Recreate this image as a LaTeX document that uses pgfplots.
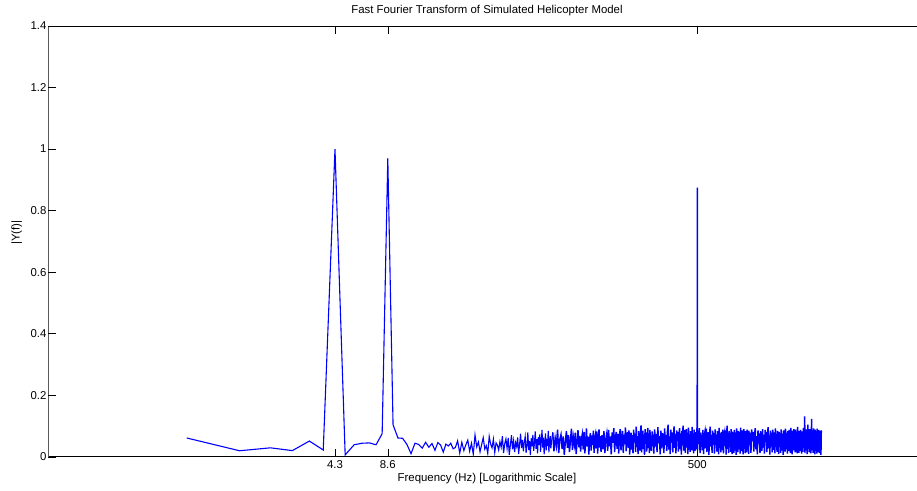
\documentclass[border=0pt]{standalone}
\usepackage{fontspec}
\setmainfont{Liberation Sans}
\usepackage{pgfplots}
\pgfplotsset{compat=1.18}
\definecolor{mblue}{RGB}{0,0,255}
\begin{document}
\begin{tikzpicture}
\fill[white] (-60pt,-45pt) rectangle (940pt,470pt);
\begin{axis}[
  at={(0,0)}, anchor=south west,
  width=877.5pt, height=431pt, scale only axis,
  xmode=log, xmin=0.16279, xmax=16279,
  ymin=0, ymax=1.4,
  axis line style={draw=none},
  xtick={7,14,814}, xticklabels={4.3,8.6,500},
  ytick={0,0.2,0.4,0.6,0.8,1,1.2,1.4},
  yticklabels={0,0.2,0.4,0.6,0.8,1,1.2,1.4},
  xtick pos=both, ytick pos=left,
  xminorticks=false, yminorticks=false,
  tick align=inside, major tick length=8pt,
  tick style={black, line width=0.5pt},
  every tick label/.style={font=\fontsize{11.4}{13}\selectfont},
  yticklabel style={xshift=1.5pt},
  title={Fast Fourier Transform of Simulated Helicopter Model},
  title style={font=\fontsize{11.4}{13}\selectfont, yshift=1pt},
  xlabel={Frequency (Hz) [Logarithmic Scale]},
  xlabel style={font=\fontsize{11.4}{13}\selectfont, yshift=2pt},
  ylabel={|Y(f)|},
  every axis y label/.style={at={(axis description cs:-0.0362,0.52)}, rotate=90, anchor=center, font=\fontsize{11.4}{13}\selectfont},
]
\coordinate (bl) at (rel axis cs:0,0);
\coordinate (tr) at (rel axis cs:1,1);
\draw[black, line width=0.9pt] (rel axis cs:0.995,1) -- (rel axis cs:0,1) -- (rel axis cs:0,0) -- (rel axis cs:0.995,0);
\addplot[color=mblue, line width=1.1pt] coordinates {
(1,0.061)(2,0.0195)(3,0.029)(4,0.020)(5,0.051)(6,0.022)(7,1.000)(8,0.006)(9,0.039)(10,0.044)
(11,0.045)(12,0.039)(13,0.075)(14,0.970)(15,0.104)(16,0.061)(17,0.060)(18,0.040)(19,0.010)(20,0.044)
(21,0.040)(22,0.028)(23,0.047)(24,0.031)(25,0.043)(26,0.021)(27,0.046)(28,0.038)(29,0.015)(30,0.041)
(31,0.035)(32,0.044)(33,0.026)(34,0.030)(35,0.052)(36,0.012)(37,0.047)(38,0.020)(39,0.039)(40,0.054)
(41,0.018)(42,0.044)(43,0.008)(44,0.071)(45,0.032)(46,0.048)(47,0.016)(48,0.040)(49,0.062)(50,0.025)
(51,0.036)(52,0.011)(53,0.066)(54,0.041)(55,0.029)(56,0.057)(57,0.014)(58,0.045)(59,0.038)(60,0.022)
(61,0.049)(62,0.031)(63,0.067)(64,0.012)(65,0.043)(66,0.058)(67,0.027)(68,0.061)(69,0.006)(70,0.039)
(71,0.070)(72,0.024)(73,0.052)(74,0.015)(75,0.046)(76,0.033)(77,0.063)(78,0.009)(79,0.041)(80,0.075)
(81,0.028)(82,0.055)(83,0.018)(84,0.048)(85,0.066)(86,0.013)(87,0.037)(88,0.079)(89,0.022)(90,0.051)
(91,0.005)(92,0.060)(93,0.034)(94,0.071)(95,0.019)(96,0.044)(97,0.082)(98,0.026)(99,0.057)(100,0.011)
(101,0.064)(102,0.039)(103,0.073)(104,0.016)(105,0.050)(106,0.087)(107,0.030)(108,0.062)(109,0.008)(110,0.045)
(111,0.076)(112,0.021)(113,0.058)(114,0.035)(115,0.084)(116,0.014)(117,0.053)(118,0.068)(119,0.027)(120,0.047)
(122,0.079)
};
\addplot[color=mblue, line width=1.45pt] coordinates {
(122,0.079)(124,0.018)(126,0.061)(128,0.035)(130,0.088)(132,0.012)(134,0.057)(136,0.072)(138,0.025)(140,0.066)
(142,0.006)(144,0.049)(146,0.083)(148,0.029)(150,0.070)(152,0.015)(154,0.055)(156,0.091)(158,0.022)(160,0.063)
(162,0.040)(164,0.078)(166,0.009)(168,0.052)(170,0.086)(172,0.031)(174,0.068)(176,0.017)(178,0.059)(180,0.074)
(182,0.024)(184,0.081)(186,0.011)(188,0.048)(190,0.092)(192,0.033)(194,0.065)(196,0.007)(198,0.056)(200,0.077)
(202,0.020)(204,0.069)(206,0.038)(208,0.085)(210,0.013)(212,0.060)(214,0.073)(216,0.027)(218,0.082)(220,0.010)
(222,0.054)(224,0.089)(226,0.030)(228,0.067)(230,0.016)
(233,0.071)(236,0.024)(239,0.083)(242,0.012)(245,0.058)(248,0.076)(251,0.019)(254,0.087)(257,0.034)(260,0.066)
(263,0.008)(266,0.079)(269,0.045)(272,0.093)(275,0.015)(278,0.062)(281,0.081)(284,0.026)(287,0.074)(290,0.010)
(293,0.069)(296,0.090)(299,0.021)(302,0.057)(305,0.084)(308,0.013)(311,0.072)(314,0.040)(317,0.095)(320,0.018)
(323,0.064)(326,0.080)(329,0.029)(332,0.086)(335,0.007)(338,0.061)(341,0.078)(344,0.023)(347,0.070)(350,0.011)
(353,0.088)(356,0.047)(359,0.075)(362,0.016)(365,0.098)(368,0.031)(371,0.067)(374,0.009)(377,0.083)(380,0.054)
(383,0.020)(386,0.077)(389,0.102)(392,0.014)(395,0.065)(398,0.085)(401,0.025)(404,0.073)(407,0.006)(410,0.090)
(413,0.042)(416,0.079)(419,0.017)(422,0.068)(425,0.094)(428,0.028)(431,0.076)(434,0.012)(437,0.087)(440,0.050)
(445,0.019)(450,0.082)(455,0.061)(460,0.010)(465,0.089)(470,0.033)(475,0.074)(480,0.015)(485,0.096)(490,0.044)
(495,0.068)(500,0.008)(505,0.085)(510,0.027)(515,0.077)(520,0.056)(525,0.012)(530,0.092)(535,0.038)(540,0.071)
(545,0.018)(550,0.083)(555,0.104)(560,0.023)(565,0.066)(570,0.009)(575,0.088)(580,0.046)(585,0.079)(590,0.014)
(595,0.062)(600,0.099)(605,0.029)(610,0.073)(615,0.011)(620,0.086)(625,0.052)(630,0.081)(635,0.017)(640,0.068)
(645,0.093)(650,0.025)(655,0.076)(660,0.007)(665,0.084)(670,0.040)(675,0.101)(680,0.020)(685,0.070)(690,0.087)
(695,0.013)(700,0.064)(705,0.090)(710,0.030)(715,0.078)(720,0.009)(725,0.095)(730,0.048)(735,0.072)(740,0.016)
(745,0.083)(750,0.060)(755,0.021)(760,0.097)(765,0.036)(770,0.075)(775,0.011)(780,0.088)(785,0.054)(790,0.019)
(795,0.080)(800,0.068)(805,0.024)(809,0.092)(812,0.030)(813,0.127)(814,0.875)(815,0.110)(816,0.018)(820,0.085)
(828,0.041)(836,0.093)(844,0.012)(852,0.078)(860,0.057)(868,0.021)(876,0.087)(884,0.009)(892,0.069)(900,0.082)
(908,0.027)(916,0.091)(924,0.015)(932,0.064)(940,0.080)(948,0.006)(956,0.074)(964,0.098)(972,0.033)(980,0.071)
(988,0.013)(996,0.085)(1004,0.052)(1012,0.077)(1020,0.010)(1028,0.089)(1036,0.038)(1044,0.072)(1052,0.017)(1060,0.083)
(1068,0.061)(1076,0.008)(1084,0.094)(1092,0.029)(1100,0.076)(1108,0.014)(1116,0.081)(1124,0.067)(1132,0.022)(1140,0.088)
(1148,0.011)(1156,0.070)(1164,0.079)(1172,0.035)(1180,0.086)(1188,0.007)(1196,0.073)(1204,0.101)(1212,0.025)(1220,0.068)
(1228,0.012)(1236,0.084)(1244,0.048)(1252,0.078)(1260,0.016)(1268,0.090)(1276,0.058)(1284,0.009)(1292,0.082)(1300,0.030)
(1308,0.075)(1316,0.013)(1324,0.087)(1332,0.063)(1340,0.020)(1348,0.079)(1356,0.006)(1364,0.092)(1372,0.042)(1380,0.071)
(1388,0.015)(1396,0.084)(1404,0.066)(1412,0.024)(1420,0.080)(1428,0.010)(1436,0.095)(1444,0.037)(1452,0.073)(1460,0.018)
(1468,0.086)(1476,0.055)(1484,0.008)(1492,0.077)(1500,0.090)(1508,0.026)(1516,0.069)(1524,0.012)(1532,0.083)(1540,0.047)
(1548,0.079)(1556,0.014)(1564,0.088)(1572,0.060)(1580,0.021)(1588,0.074)(1596,0.009)(1604,0.085)(1612,0.039)
(1630,0.078)(1646,0.013)(1662,0.089)(1678,0.051)(1694,0.080)(1710,0.017)(1726,0.072)(1742,0.093)(1758,0.024)(1774,0.067)
(1790,0.008)(1806,0.086)(1822,0.044)(1838,0.076)(1854,0.012)(1870,0.083)(1886,0.062)(1902,0.019)(1918,0.090)(1934,0.030)
(1950,0.071)(1966,0.010)(1982,0.087)(1998,0.057)(2014,0.081)(2030,0.015)(2046,0.074)(2062,0.096)(2078,0.027)(2094,0.069)
(2110,0.007)(2126,0.085)(2142,0.040)(2158,0.078)(2174,0.014)(2190,0.088)(2206,0.065)(2222,0.022)(2238,0.079)(2254,0.011)
(2270,0.092)(2286,0.049)(2302,0.073)(2318,0.016)(2334,0.084)(2350,0.058)(2366,0.009)(2382,0.081)(2398,0.032)(2414,0.077)
(2430,0.013)(2446,0.089)(2462,0.068)(2478,0.020)(2494,0.075)(2510,0.006)(2526,0.086)(2542,0.043)(2558,0.080)(2574,0.015)
(2590,0.091)(2606,0.061)(2622,0.024)(2638,0.078)(2654,0.010)(2670,0.083)(2686,0.070)(2702,0.018)(2718,0.087)(2734,0.036)
(2750,0.074)(2766,0.012)(2782,0.094)(2798,0.053)(2814,0.079)(2830,0.008)(2846,0.085)(2862,0.063)(2878,0.021)(2894,0.090)
(2910,0.028)(2926,0.076)(2942,0.014)(2958,0.088)(2974,0.059)(2990,0.017)(3006,0.082)(3022,0.011)(3038,0.097)(3054,0.046)
(3070,0.079)(3086,0.013)(3102,0.084)(3118,0.066)
(3138,0.019)(3158,0.087)(3178,0.054)(3198,0.010)(3218,0.082)(3238,0.071)(3258,0.016)(3278,0.093)(3298,0.030)(3318,0.077)
(3334,0.131)(3346,0.012)(3358,0.085)(3378,0.062)(3398,0.020)(3418,0.089)(3438,0.009)(3458,0.074)(3478,0.104)(3498,0.026)
(3518,0.080)(3538,0.014)(3558,0.090)(3578,0.047)(3598,0.081)(3618,0.011)(3638,0.078)(3652,0.123)(3666,0.021)(3686,0.086)
(3706,0.058)(3726,0.013)(3746,0.092)(3766,0.035)(3786,0.079)(3806,0.008)(3826,0.088)(3846,0.066)(3866,0.018)(3886,0.083)
(3906,0.010)(3926,0.091)(3946,0.052)(3966,0.077)(3986,0.015)(4006,0.087)(4026,0.060)(4046,0.012)(4066,0.085)(4086,0.028)
(4106,0.082)(4126,0.006)(4146,0.086)
};
\end{axis}
\pgfresetboundingbox
\path ([xshift=-48.5pt,yshift=-34pt]bl) rectangle ([xshift=-8.5pt,yshift=26pt]tr);
\end{tikzpicture}
\end{document}
